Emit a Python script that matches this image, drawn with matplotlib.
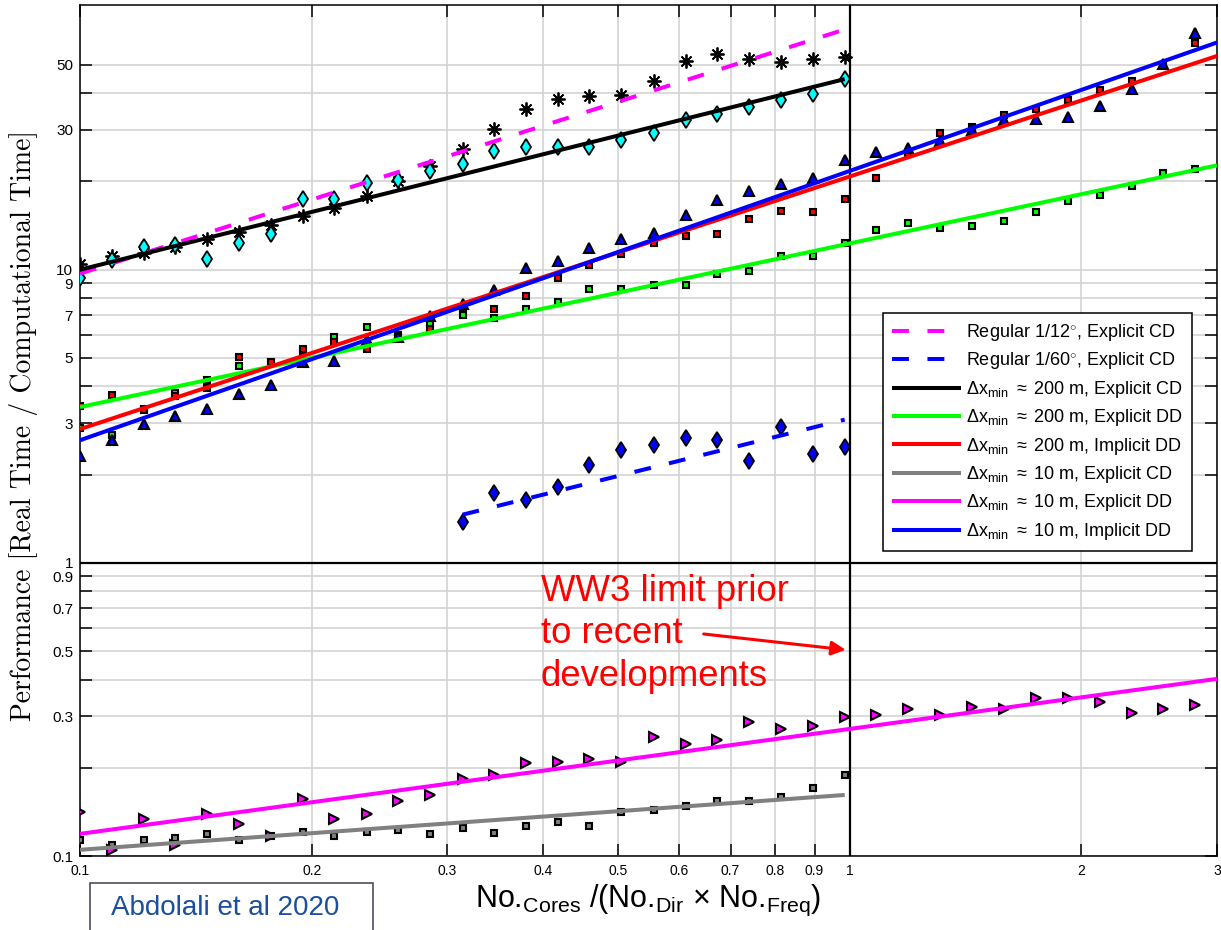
"""
WW3 parallel scaling (Abdolali et al. 2020): performance against the number
of cores per spectral component, log-log, with fitted power-law trends.
"""

import matplotlib as mpl

mpl.use("Agg")
import matplotlib.pyplot as plt
from matplotlib.patches import Rectangle

# ----------------------------------------------------------------------------
# Data
# ----------------------------------------------------------------------------
# No.Cores / (No.Dir x No.Freq) at which runs were made
X_RATIO = [0.100, 0.110, 0.121, 0.133, 0.146, 0.161, 0.177, 0.195, 0.214,
           0.236, 0.259, 0.285, 0.314, 0.345, 0.380, 0.418, 0.459, 0.505,
           0.556, 0.612, 0.673, 0.740, 0.814, 0.895, 0.985, 1.083, 1.192,
           1.311, 1.442, 1.586, 1.745, 1.919, 2.111, 2.323, 2.555, 2.810]

# measured performance (first 25 runs)
ASTERISK_Y = [10.5, 11.1, 11.4, 12.0, 12.75, 13.4, 14.2, 15.2, 16.3, 17.9,
              20.0, 22.6, 25.9, 30.2, 35.3, 38.3, 39.0, 39.5, 44.1, 51.4,
              54.3, 52.2, 51.3, 52.2, 53.1]
CYAN_DIAMOND_Y = [9.37, 10.8, 11.95, 12.1, 10.9, 12.3, 13.2, 17.4, 17.4, 19.7,
                  20.2, 21.8, 22.9, 25.5, 26.3, 26.3, 26.3, 27.7, 29.2, 32.3,
                  34.0, 35.9, 37.8, 39.7, 44.9]
# regular 1/60 deg grid, runs 13..25
BLUE_DIAMOND_Y = [1.38, 1.73, 1.64, 1.81, 2.16, 2.43, 2.52, 2.66, 2.62, 2.23,
                  2.90, 2.36, 2.48]
# all 36 runs
GREEN_SQUARE_Y = [2.88, 2.73, 3.36, 3.81, 4.21, 4.68, 4.84, 5.30, 5.89, 6.40,
                  6.00, 6.54, 6.98, 6.84, 7.35, 7.74, 8.59, 8.59, 8.89, 8.89,
                  9.69, 9.87, 11.1, 11.1, 12.3, 13.7, 14.4, 13.9, 14.1, 14.7,
                  15.7, 17.2, 18.0, 19.3, 21.4, 22.1]
RED_SQUARE_Y = [3.42, 3.74, 3.33, 3.72, 3.95, 5.02, 4.84, 5.37, 5.65, 5.37,
                5.90, 6.27, 7.40, 7.35, 8.15, 9.34, 10.35, 11.3, 12.33, 13.0,
                13.2, 14.9, 15.9, 15.7, 17.4, 20.6, 24.9, 29.3, 30.8, 33.6,
                35.3, 37.8, 41.1, 44.1, 50.0, 59.3]
BLUE_TRIANGLE_Y = [2.32, 2.63, 2.97, 3.18, 3.34, 3.77, 4.05, 4.83, 4.89, 5.74,
                   5.89, 6.93, 7.66, 8.55, 10.1, 10.7, 11.9, 12.7, 13.3, 15.4,
                   17.3, 18.5, 19.6, 20.5, 23.6, 25.2, 26.1, 27.4, 30.0, 32.3,
                   32.7, 33.3, 36.2, 41.5, 50.4, 64.1]
GRAY_SQUARE_Y = [0.113, 0.109, 0.113, 0.115, 0.119, 0.113, 0.117, 0.121,
                 0.117, 0.121, 0.123, 0.119, 0.125, 0.120, 0.127, 0.131,
                 0.127, 0.141, 0.144, 0.148, 0.154, 0.154, 0.159, 0.170,
                 0.189]
MAGENTA_TRIANGLE_Y = [0.141, 0.105, 0.134, 0.109, 0.139, 0.129, 0.117, 0.157,
                      0.134, 0.139, 0.154, 0.162, 0.183, 0.189, 0.207, 0.210,
                      0.214, 0.210, 0.254, 0.241, 0.249, 0.286, 0.271, 0.278,
                      0.297, 0.302, 0.318, 0.302, 0.323, 0.318, 0.346, 0.346,
                      0.334, 0.307, 0.318, 0.328]

# fitted trend lines (end points)
FIT_X_SHORT = [0.1, 0.985]
FIT_X_LONG = [0.1, 3.0]
FIT_X_REG60 = [0.314, 0.985]
FIT_REG12_Y = [9.7, 66.0]
FIT_REG60_Y = [1.46, 3.08]
FIT_200_ECD_Y = [10.0, 44.7]
FIT_200_EDD_Y = [3.40, 22.7]
FIT_200_IDD_Y = [2.86, 53.6]
FIT_10_ECD_Y = [0.105, 0.1615]
FIT_10_EDD_Y = [0.119, 0.402]
FIT_10_IDD_Y = [2.62, 59.6]

LEGEND_LABELS = [
    r"Regular 1/12$^{\circ}$, Explicit CD",
    r"Regular 1/60$^{\circ}$, Explicit CD",
    r"$\Delta$x$_{\rm min}$ $\approx$ 200 m, Explicit CD",
    r"$\Delta$x$_{\rm min}$ $\approx$ 200 m, Explicit DD",
    r"$\Delta$x$_{\rm min}$ $\approx$ 200 m, Implicit DD",
    r"$\Delta$x$_{\rm min}$ $\approx$ 10 m, Explicit CD",
    r"$\Delta$x$_{\rm min}$ $\approx$ 10 m, Explicit DD",
    r"$\Delta$x$_{\rm min}$ $\approx$ 10 m, Implicit DD",
]

X_TICKS = [0.1, 0.2, 0.3, 0.4, 0.5, 0.6, 0.7, 0.8, 0.9, 1, 2, 3]
X_TICK_LABELS = ["0.1", "0.2", "0.3", "0.4", "0.5", "0.6", "0.7", "0.8",
                 "0.9", "1", "2", "3"]
Y_TICKS = [0.1, 0.2, 0.3, 0.4, 0.5, 0.6, 0.7, 0.8, 0.9,
           1, 2, 3, 4, 5, 6, 7, 8, 9, 10, 20, 30, 40, 50]
Y_TICK_LABELS = ["0.1", "", "0.3", "", "0.5", "", "0.7", "", "0.9",
                 "1", "", "3", "", "5", "", "7", "", "9", "10", "", "30", "",
                 "50"]

# ----------------------------------------------------------------------------
# Style
# ----------------------------------------------------------------------------
MAGENTA = "#FF00FF"
BLUE = "#0000FF"
RED = "#FF0000"
GREEN = "#00FF00"
GRAY = "#808080"
CYAN = "#00FFFF"
GRID = "#d3d3d3"

mpl.rcParams.update({
    "font.family": ["Liberation Sans", "DejaVu Sans"],
    "mathtext.fontset": "custom",
    "mathtext.rm": "Liberation Sans",
    "mathtext.it": "Liberation Sans:italic",
    "mathtext.bf": "Liberation Sans:bold",
    "axes.linewidth": 1.1,
})

W, H = 1221, 930
LINE_W = 2.9
DASHES = (0, (4.2, 4.6))


def draw_markers(ax):
    mk = dict(ls="none", mec="black", zorder=3)
    ax.plot(X_RATIO[:25], ASTERISK_Y, marker=(8, 2, 0), ms=10, mew=1.3,
            color="black", **mk)
    ax.plot(X_RATIO[:25], CYAN_DIAMOND_Y, marker="d", ms=8.5, mew=1.3,
            mfc=CYAN, **mk)
    ax.plot(X_RATIO[12:25], BLUE_DIAMOND_Y, marker="d", ms=8.5, mew=1.3,
            mfc=BLUE, **mk)
    ax.plot(X_RATIO, GREEN_SQUARE_Y, marker="s", ms=4.6, mew=1.5,
            mfc=GREEN, **mk)
    ax.plot(X_RATIO, RED_SQUARE_Y, marker="s", ms=4.6, mew=1.5,
            mfc=RED, **mk)
    ax.plot(X_RATIO, BLUE_TRIANGLE_Y, marker="^", ms=7.5, mew=1.5,
            mfc=BLUE, **mk)
    ax.plot(X_RATIO[:25], GRAY_SQUARE_Y, marker="s", ms=4.6, mew=1.5,
            mfc=GRAY, **mk)
    ax.plot(X_RATIO, MAGENTA_TRIANGLE_Y, marker=">", ms=7.5, mew=1.5,
            mfc=MAGENTA, **mk)


def draw_fits(ax):
    fits = [
        (FIT_X_SHORT, FIT_REG12_Y, MAGENTA, DASHES),
        (FIT_X_REG60, FIT_REG60_Y, BLUE, DASHES),
        (FIT_X_SHORT, FIT_200_ECD_Y, "black", "-"),
        (FIT_X_LONG, FIT_200_EDD_Y, GREEN, "-"),
        (FIT_X_LONG, FIT_200_IDD_Y, RED, "-"),
        (FIT_X_SHORT, FIT_10_ECD_Y, GRAY, "-"),
        (FIT_X_LONG, FIT_10_EDD_Y, MAGENTA, "-"),
        (FIT_X_LONG, FIT_10_IDD_Y, BLUE, "-"),
    ]
    handles = []
    for xs, ys, col, ls in fits:
        (h,) = ax.plot(xs, ys, color=col, ls=ls, lw=LINE_W, zorder=4,
                       solid_capstyle="butt", dash_capstyle="butt")
        handles.append(h)
    return handles


def main():
    fig = plt.figure(figsize=(W / 100, H / 100), dpi=100)
    ax = fig.add_axes([80 / W, 74 / H, 1137 / W, 851 / H])
    ax.set_xscale("log")
    ax.set_yscale("log")
    ax.set_xlim(0.1, 3.0)
    ax.set_ylim(0.1, 80)

    ax.set_xticks(X_TICKS)
    ax.set_xticklabels(X_TICK_LABELS)
    ax.set_yticks(Y_TICKS)
    ax.set_yticklabels(Y_TICK_LABELS)
    ax.minorticks_off()
    ax.tick_params(which="major", direction="in", length=8.5, width=1.1,
                   top=True, right=True, color="black")
    ax.tick_params(axis="x", labelsize=10, pad=6)
    ax.tick_params(axis="y", labelsize=11, pad=5)
    ax.grid(True, color=GRID, linewidth=1.2)
    ax.set_axisbelow(True)

    # panel separators: old WW3 limit and perf = 1
    ax.axvline(1.0, color="black", lw=1.6, zorder=2.5)
    ax.axhline(1.0, color="black", lw=1.6, zorder=2.5)

    draw_markers(ax)
    handles = draw_fits(ax)

    leg = ax.legend(handles, LEGEND_LABELS, loc="upper left",
                    bbox_to_anchor=(883 / W, 1 - 313 / H),
                    bbox_transform=fig.transFigure, borderaxespad=0,
                    frameon=True, fancybox=False, framealpha=1,
                    edgecolor="black", fontsize=13, borderpad=0.5,
                    handlelength=3.8, handletextpad=0.3, labelspacing=0.41)
    leg.get_frame().set_linewidth(1.1)
    leg.set_zorder(10)

    ax.text(0.397, 0.915, "WW3 limit prior\nto recent\ndevelopments",
            color=RED, fontsize=26.3, ha="left", va="top", linespacing=1.27,
            zorder=6)
    ax.annotate("", xy=(0.988, 0.505), xytext=(0.646, 0.572),
                arrowprops=dict(arrowstyle="-|>", color=RED, lw=2.2,
                                mutation_scale=21, shrinkA=0, shrinkB=0),
                zorder=6)

    ax.set_xlabel(r"No.$_{\rm Cores}$ /(No.$_{\rm Dir}$ $\times$ No.$_{\rm Freq}$)",
                  fontsize=22, labelpad=3)
    fig.text(24 / W, 1 - 425 / H,
             "Performance [Real Time / Computational Time]",
             rotation=90, ha="center", va="center", fontsize=20,
             family="cmr10")

    # credit box, cut by the bottom edge of the figure
    fig.patches.append(Rectangle((90 / W, -5 / H), 283 / W, 52 / H,
                                 transform=fig.transFigure, fill=False,
                                 edgecolor="#3a3f55", lw=1.1))
    fig.text(225 / W, 1 - 908 / H, "Abdolali et al 2020", color="#1a4f9c",
             fontsize=20, ha="center", va="center")

    fig.savefig("out.png", dpi=100)
    plt.close(fig)


if __name__ == "__main__":
    main()
